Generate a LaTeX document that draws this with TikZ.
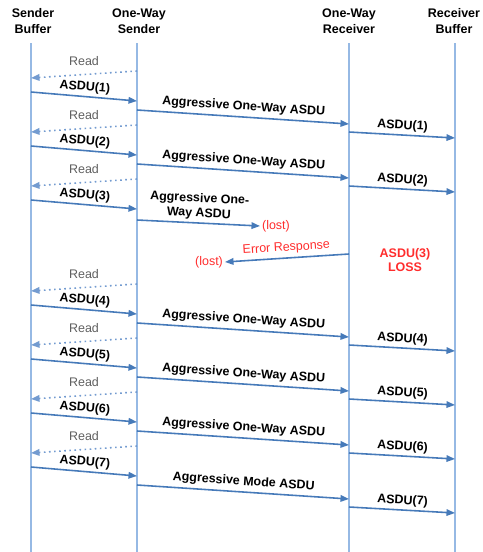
\documentclass[tikz,border=0pt]{standalone}
\usepackage{fontspec}
\setmainfont{Liberation Sans}
\usepackage{tikz}
\usetikzlibrary{arrows.meta}

\definecolor{lifeblue}{RGB}{150,185,228}
\definecolor{msgblue}{RGB}{70,122,185}
\definecolor{readblue}{RGB}{115,155,208}
\definecolor{readgray}{RGB}{95,95,95}
\definecolor{lossred}{RGB}{255,45,45}

\tikzset{
  lifeline/.style={lifeblue, line width=0.8pt},
  msg/.style={msgblue, line width=0.9pt, -{Triangle[length=1.7mm,width=1.3mm]}},
  readmsg/.style={readblue, line width=0.9pt, dotted, -{Triangle[length=1.7mm,width=1.3mm]}},
  hdr/.style={font=\fontsize{7.1}{9.1}\selectfont\bfseries, align=center, inner sep=0pt},
  lbl/.style={font=\fontsize{7.1}{8.5}\selectfont\bfseries, text=black, inner sep=1.5pt},
  readlbl/.style={font=\fontsize{7.1}{8.5}\selectfont, text=readgray, inner sep=4.5pt},
  redlbl/.style={font=\fontsize{7.1}{8.5}\selectfont, text=lossred, inner sep=1pt}
}

\begin{document}
\begin{tikzpicture}[x=0.02cm, y=-0.02cm]
    \useasboundingbox (0,0) rectangle (483,552);

    % Entetes
    \node[hdr] (sbhdr) at (33,21) {Sender\\Buffer};
    \node[hdr] (oshdr) at (139,21) {One-Way\\Sender};
    \node[hdr] (orhdr) at (349,21) {One-Way\\Receiver};
    \node[hdr] (rbhdr) at (454,21) {Receiver\\Buffer};

    % Lignes de vie
    \foreach \nm/\x in {sb/31, os/137, or/349, rb/455} {
        \coordinate (\nm-top) at (\x,43);
        \coordinate (\nm-bot) at (\x,552);
        \draw[lifeline] (\nm-top) -- (\nm-bot);
    }

    % Cycles normaux
    \foreach \n/\yb/\txt in {1/71/Aggressive One-Way ASDU, 2/125/Aggressive One-Way ASDU,
                             4/284/Aggressive One-Way ASDU, 5/338/Aggressive One-Way ASDU,
                             6/392/Aggressive One-Way ASDU, 7/446/Aggressive Mode ASDU} {
        % Read
        \coordinate (rd-s-\n) at (137,\yb);
        \coordinate (rd-e-\n) at (31,\yb+7);
        \draw[readmsg] (rd-s-\n) -- node[readlbl, midway, above] (rd-l-\n) {Read} (rd-e-\n);
        % ASDU(n) vers One-Way Sender
        \coordinate (as-s-\n) at (31,\yb+21);
        \coordinate (as-e-\n) at (137,\yb+30);
        \draw[msg] (as-s-\n) -- node[lbl, midway, above, sloped] (as-l-\n) {ASDU(\n)} (as-e-\n);
        % ASDU agressive
        \coordinate (ag-s-\n) at (137,\yb+39);
        \coordinate (ag-e-\n) at (349,\yb+53);
        \draw[msg] (ag-s-\n) -- node[lbl, midway, above, sloped, inner sep=2pt] (ag-l-\n) {\txt} (ag-e-\n);
        % ASDU(n) vers Receiver Buffer
        \coordinate (ar-s-\n) at (349,\yb+61);
        \coordinate (ar-e-\n) at (455,\yb+67);
        \draw[msg] (ar-s-\n) -- node[lbl, midway, above, sloped] (ar-l-\n) {ASDU(\n)} (ar-e-\n);
    }

    % Cycle 3 : ASDU(3) perdu
    \coordinate (rd-s-3) at (137,179);
    \coordinate (rd-e-3) at (31,186);
    \draw[readmsg] (rd-s-3) -- node[readlbl, midway, above] (rd-l-3) {Read} (rd-e-3);
    \coordinate (as-s-3) at (31,200);
    \coordinate (as-e-3) at (137,209);
    \draw[msg] (as-s-3) -- node[lbl, midway, above, sloped] (as-l-3) {ASDU(3)} (as-e-3);

    \node[redlbl, anchor=west] (lost1) at (260,226) {(lost)};
    \coordinate (ag-s-3) at (137,220);
    \draw[msg] (ag-s-3) -- node[lbl, midway, above, sloped, align=center] (ag-l-3) {Aggressive One-\\Way ASDU} (lost1.west);

    \node[redlbl, anchor=east] (lost2) at (225,262) {(lost)};
    \coordinate (er-s) at (349,254);
    \draw[msg] (er-s) -- node[redlbl, midway, above, sloped, inner sep=2pt] (er-l) {Error Response} (lost2.east);

    \node[redlbl, font=\fontsize{7.1}{8.3}\selectfont\bfseries, align=center] (loss) at (405,260) {ASDU(3)\\LOSS};
\end{tikzpicture}
\end{document}
